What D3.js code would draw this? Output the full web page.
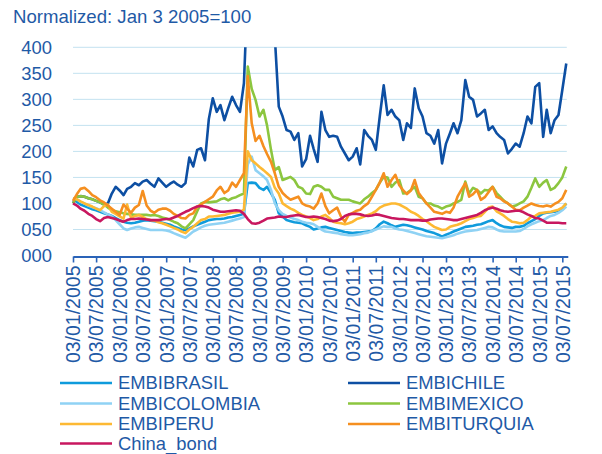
<!DOCTYPE html>
<html>
<head>
<meta charset="utf-8">
<script src="https://cdnjs.cloudflare.com/ajax/libs/d3/7.8.5/d3.min.js"></script>
<style>
  body { margin: 0; background: #fff; }
  svg text { font-family: "Liberation Sans", Arial, sans-serif; fill: #1f5aa6; }
</style>
</head>
<body>
<script>
// monthly readings, first point = Jan 2005
var startMonth = "2005-01-03";

var seriesNames = ["EMBIBRASIL", "EMBICHILE", "EMBICOLOMBIA", "EMBIMEXICO", "EMBIPERU", "EMBITURQUIA", "China_bond"];
var seriesColors = ["#0f9bdc", "#0d4fa3", "#8fd2f4", "#8cc63f", "#fdb933", "#f58f20", "#c8175f"];

var brasil = [107,103,98,95,92,89,87,84,81,79,
  76,72,68,65,63,62,63,65,67,68,
  67,66,65,63,61,59,56,53,50,49,
  52,56,59,62,65,68,69,70,70,71,
  73,74,76,78,80,139,140,139,130,126,
  132,120,107,81,75,68,66,64,63,62,
  58,55,50,52,54,55,53,51,49,47,
  45,44,43,44,44,45,46,47,52,60,
  65,62,58,55,57,59,58,56,54,52,
  50,47,45,43,40,36,40,43,46,49,
  52,55,56,57,59,60,63,66,68,62,
  58,55,54,53,55,55,57,62,66,70,
  76,81,82,83,84,86,90,100];

var chile = [100,113,114,113,110,108,105,102,98,100,
  119,132,125,116,128,132,139,135,142,145,
  138,132,148,140,132,138,142,136,132,139,
  188,171,203,206,183,262,302,276,289,260,
  283,305,289,276,331,520,640,700,620,560,
  520,460,420,286,267,241,238,222,235,171,
  185,230,205,180,276,241,228,230,228,209,
  196,183,190,206,175,241,230,222,203,267,
  327,270,280,267,260,222,254,245,321,283,
  267,235,230,215,241,177,215,235,254,235,
  260,337,305,299,267,273,280,241,248,235,
  228,222,196,205,215,209,235,267,254,324,
  331,228,280,235,260,270,318,369];

var colombia = [110,108,103,100,96,93,91,87,83,79,
  75,68,60,52,49,52,54,55,53,51,
  49,49,49,49,48,46,43,40,37,34,
  40,46,50,54,57,59,60,61,62,63,
  65,67,69,71,74,175,190,164,158,152,
  145,126,100,87,80,76,73,70,68,65,
  63,62,60,55,50,46,45,44,43,41,
  40,39,39,40,41,43,44,47,50,53,
  56,55,55,52,50,49,47,45,43,41,
  39,37,36,35,34,33,35,37,39,42,
  44,46,47,48,49,51,53,55,54,50,
  47,46,46,46,46,47,51,56,60,63,
  66,68,72,76,78,82,87,94];

var mexico = [100,113,114,113,110,108,105,102,98,92,
  87,85,83,81,80,79,78,78,78,78,
  77,78,76,73,71,68,65,62,56,52,
  60,68,85,100,103,102,103,104,108,110,
  106,110,112,116,119,363,320,299,267,280,
  250,203,164,170,145,148,151,145,132,129,
  119,118,132,135,132,126,126,113,110,107,
  107,107,104,102,100,108,113,120,126,140,
  151,150,132,140,145,119,120,126,132,113,
  110,100,100,96,94,90,94,96,100,103,
  107,142,119,130,126,119,126,125,132,120,
  113,105,100,94,96,100,104,113,130,148,
  132,140,145,126,130,139,150,171];

var peru = [110,108,104,100,97,94,90,87,95,98,
  84,80,75,71,98,72,76,78,74,70,
  68,67,64,62,59,56,53,50,46,43,
  50,55,62,68,70,75,75,76,77,78,
  80,82,83,84,88,200,183,177,170,164,
  158,151,130,119,100,95,90,87,82,78,
  75,72,68,70,75,78,72,65,63,62,
  60,62,65,70,72,75,78,81,85,92,
  96,98,100,100,98,94,90,84,81,76,
  70,66,60,55,52,49,50,55,57,59,
  62,66,70,72,75,76,84,92,94,85,
  81,76,70,65,64,62,63,68,75,76,
  81,82,83,84,86,88,92,100];

var turquia = [105,118,128,130,124,116,112,106,102,96,
  90,84,78,98,90,82,92,97,124,96,
  86,82,88,90,90,86,80,76,72,71,
  78,81,94,98,103,108,113,125,132,120,
  125,140,132,145,158,345,254,220,230,210,
  195,180,158,132,120,113,107,110,113,100,
  96,94,90,100,119,95,81,87,92,75,
  65,78,82,86,88,95,100,113,126,140,
  158,132,145,155,135,125,118,125,145,120,
  110,100,92,84,82,80,84,82,92,113,
  126,139,113,118,126,107,112,122,132,113,
  110,104,100,94,88,87,92,96,100,97,
  95,94,96,94,99,103,110,126];

var china = [100,96,90,86,80,76,70,66,72,74,
  72,70,67,65,68,70,70,71,70,69,
  68,68,68,69,70,70,73,76,80,84,
  87,91,94,95,94,92,88,86,84,84,
  85,86,87,86,80,70,62,61,63,67,
  71,72,73,75,74,74,76,77,78,76,
  74,74,75,74,72,70,67,66,67,70,
  76,79,80,80,79,77,76,77,79,78,
  76,74,72,71,70,70,69,68,68,68,
  67,67,69,70,71,71,70,69,68,68,
  70,72,74,76,78,82,87,90,92,90,
  87,85,84,85,86,86,83,79,76,72,
  71,67,63,63,63,63,62,62];

var allSeries = [brasil, chile, colombia, mexico, peru, turquia, china];

var yTicks = [0, 50, 100, 150, 200, 250, 300, 350, 400];
var yTickLabels = ["000", "050", "100", "150", "200", "250", "300", "350", "400"];

var xTickLabels = ["03/01/2005", "03/07/2005", "03/01/2006", "03/07/2006", "03/01/2007", "03/07/2007",
  "03/01/2008", "03/07/2008", "03/01/2009", "03/07/2009", "03/01/2010", "03/07/2010",
  "03/01/2011", "03/07/2011", "03/01/2012", "03/07/2012", "03/01/2013", "03/07/2013",
  "03/01/2014", "03/07/2014", "03/01/2015", "03/07/2015"];

var xEnd = "2015-08-15";

// svg container
var svgWidth = 602;
var svgHeight = 454;

var plot = { left: 73, right: 567.8, top: 47.3, bottom: 255.5 };

var svg = d3.select("body").append("svg")
    .attr("width", svgWidth)
    .attr("height", svgHeight);

var parseIso = d3.timeParse("%Y-%m-%d");
var parseTick = d3.timeParse("%d/%m/%Y");
var start = parseIso(startMonth);

// scales
var x = d3.scaleTime()
    .domain([start, parseIso(xEnd)])
    .range([plot.left, plot.right]);

var y = d3.scaleLinear()
    .domain([0, 400])
    .range([plot.bottom, plot.top]);

// title
svg.append("text")
    .attr("x", 13)
    .attr("y", 23)
    .style("font-size", "18.6px")
    .text("Normalized: Jan 3 2005=100");

// gridlines
svg.append("g")
    .selectAll("line")
    .data(yTicks.slice(1))
    .enter()
    .append("line")
    .attr("x1", plot.left)
    .attr("x2", plot.right - 1)
    .attr("y1", d => y(d))
    .attr("y2", d => y(d))
    .attr("stroke", "#c3e2f0")
    .attr("stroke-width", 1);

// y axis labels (no line)
var leftAxis = d3.axisLeft(y)
    .tickValues(yTicks)
    .tickFormat((d, i) => yTickLabels[i])
    .tickSize(0)
    .tickPadding(0);

var yAxisG = svg.append("g")
    .attr("transform", "translate(52,0)")
    .call(leftAxis);
yAxisG.select(".domain").remove();
yAxisG.selectAll("text")
    .style("font-size", "18.4px")
    .attr("fill", "#1f5aa6")
    .style("font-family", "Liberation Sans, Arial, sans-serif");

// clip so series above 400 are cut off
svg.append("clipPath")
    .attr("id", "plotClip")
    .append("rect")
    .attr("x", plot.left - 2)
    .attr("y", plot.top)
    .attr("width", plot.right - plot.left + 4)
    .attr("height", plot.bottom - plot.top + 2);

var line = d3.line()
    .x((d, i) => x(d3.timeMonth.offset(start, i)))
    .y(d => y(d));

svg.append("g")
    .attr("clip-path", "url(#plotClip)")
    .selectAll("path")
    .data(allSeries)
    .enter()
    .append("path")
    .attr("d", d => line(d))
    .attr("fill", "none")
    .attr("stroke", (d, i) => seriesColors[i])
    .attr("stroke-width", 2.6)
    .attr("stroke-linejoin", "round");

// x axis
var bottomAxis = d3.axisBottom(x)
    .tickValues(xTickLabels.map(s => parseTick(s)))
    .tickFormat(d3.timeFormat("%d/%m/%Y"))
    .tickSize(6)
    .tickSizeOuter(0);

var xAxisG = svg.append("g")
    .attr("transform", `translate(0, ${plot.bottom + 1})`)
    .call(bottomAxis);
xAxisG.select(".domain")
    .attr("stroke", "#2a63b8")
    .attr("stroke-width", 2.2);
xAxisG.selectAll(".tick line")
    .attr("stroke", "#2a63b8")
    .attr("stroke-width", 1.6);
xAxisG.selectAll("text")
    .attr("transform", "rotate(-90)")
    .attr("text-anchor", "end")
    .attr("x", -9)
    .attr("y", 0)
    .attr("dy", "0.35em")
    .attr("fill", "#1f5aa6")
    .style("font-size", "19.5px")
    .style("font-family", "Liberation Sans, Arial, sans-serif");

// legend
var legendCols = [60, 348];
var legendRows = [383, 403.5, 424, 443.5];
var legend = svg.append("g")
    .selectAll("g")
    .data(seriesNames)
    .enter()
    .append("g")
    .attr("transform", (d, i) => `translate(${legendCols[i % 2]}, ${legendRows[Math.floor(i / 2)]})`);

legend.append("line")
    .attr("x1", 0)
    .attr("x2", 52)
    .attr("stroke", (d, i) => seriesColors[i])
    .attr("stroke-width", 2.5);

legend.append("text")
    .attr("x", 58)
    .attr("dy", "0.35em")
    .style("font-size", "18.4px")
    .text(d => d);
</script>
</body>
</html>
